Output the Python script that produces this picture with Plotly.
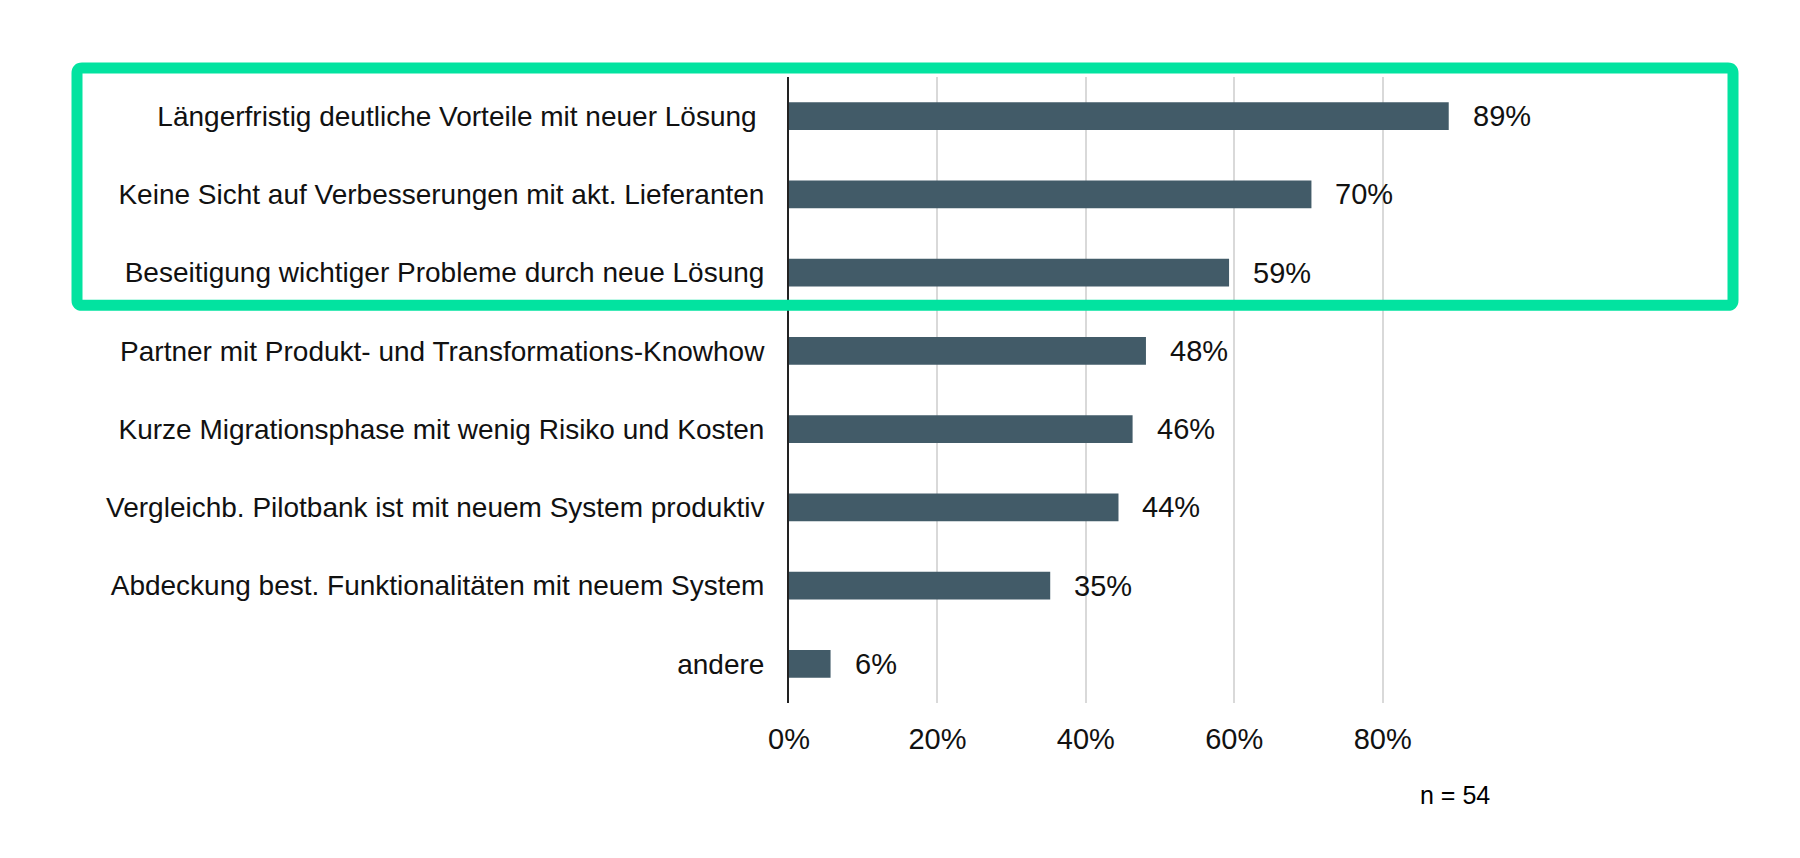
import plotly.graph_objects as go

# survey answers, share of respondents (n = 54)
categories = [
    "Längerfristig deutliche Vorteile mit neuer Lösung ",
    "Keine Sicht auf Verbesserungen mit akt. Lieferanten",
    "Beseitigung wichtiger Probleme durch neue Lösung",
    "Partner mit Produkt- und Transformations-Knowhow",
    "Kurze Migrationsphase mit wenig Risiko und Kosten",
    "Vergleichb. Pilotbank ist mit neuem System produktiv",
    "Abdeckung best. Funktionalitäten mit neuem System",
    "andere",
]
shares = [0.889, 0.704, 0.593, 0.481, 0.463, 0.444, 0.352, 0.056]
tick_values = [0, 0.2, 0.4, 0.6, 0.8]
tick_labels = ["0%", "20%", "40%", "60%", "80%"]
sample_note = "n = 54"

FONT = "Liberation Sans, Arial, sans-serif"
BAR_COLOR = "#425B68"
TEXT_COLOR = "#111111"
HIGHLIGHT = "#02E3A0"

fig = go.Figure(
    go.Bar(
        x=shares,
        y=categories,
        orientation="h",
        marker=dict(color=BAR_COLOR, line=dict(width=0)),
        hoverinfo="skip",
    )
)

# value labels next to each bar
for share, cat in zip(shares, categories):
    fig.add_annotation(
        x=share, y=cat, xref="x", yref="y",
        text=f"{share:.0%}",
        showarrow=False, xanchor="left", yanchor="middle", xshift=22,
        font=dict(family=FONT, size=29, color=TEXT_COLOR),
    )

fig.add_annotation(
    x=0.944, y=-0.147, xref="paper", yref="paper",
    text=sample_note, showarrow=False,
    xanchor="center", yanchor="middle",
    font=dict(family=FONT, size=25, color="#000000"),
)

# green frame around the top three answers (rounded corners)
x0, x1 = (77 - 789) / 705, (1733 - 789) / 705
y0, y1 = (703 - 305.5) / 625.6, (703 - 68.5) / 625.6
rx, ry = 5 / 705, 5 / 625.6
frame = (
    f"M {x0 + rx},{y1} L {x1 - rx},{y1} Q {x1},{y1} {x1},{y1 - ry} "
    f"L {x1},{y0 + ry} Q {x1},{y0} {x1 - rx},{y0} "
    f"L {x0 + rx},{y0} Q {x0},{y0} {x0},{y0 + ry} "
    f"L {x0},{y1 - ry} Q {x0},{y1} {x0 + rx},{y1} Z"
)
fig.add_shape(
    type="path", path=frame, xref="paper", yref="paper",
    line=dict(color=HIGHLIGHT, width=11), layer="above",
)

# page body adds an 8px offset, so the figure is sized 16px smaller
fig.update_layout(
    width=1784,
    height=842,
    margin=dict(l=781, r=298, t=69, b=147),
    paper_bgcolor="white",
    plot_bgcolor="white",
    bargap=0.646,
    showlegend=False,
    font=dict(family=FONT, color=TEXT_COLOR),
    xaxis=dict(
        range=[0, 0.95],
        tickvals=tick_values,
        ticktext=tick_labels,
        showgrid=True,
        gridcolor="#D9D9D9",
        gridwidth=2,
        zeroline=False,
        showline=False,
        ticks="",
        ticklabelstandoff=16,
        tickfont=dict(family=FONT, size=29, color=TEXT_COLOR),
        fixedrange=True,
    ),
    yaxis=dict(
        autorange="reversed",
        showline=True,
        linecolor="#222222",
        linewidth=2,
        showgrid=False,
        ticks="",
        ticklabelstandoff=17,
        tickfont=dict(family=FONT, size=28, color=TEXT_COLOR),
        fixedrange=True,
    ),
)

fig.write_html("out.html")
